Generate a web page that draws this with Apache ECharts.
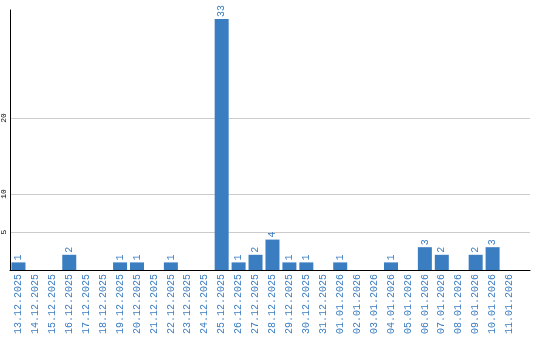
<!DOCTYPE html>
<html><head><meta charset="utf-8">
<script src="https://cdn.jsdelivr.net/npm/echarts@6/dist/echarts.min.js"></script>
<style>html,body{margin:0;padding:0;background:#fff}#c{width:540px;height:340px}</style>
</head><body><div id="c"></div>
<script>
const categories = ['13.12.2025','14.12.2025','15.12.2025','16.12.2025','17.12.2025','18.12.2025','19.12.2025','20.12.2025','21.12.2025','22.12.2025','23.12.2025','24.12.2025','25.12.2025','26.12.2025','27.12.2025','28.12.2025','29.12.2025','30.12.2025','31.12.2025','01.01.2026','02.01.2026','03.01.2026','04.01.2026','05.01.2026','06.01.2026','07.01.2026','08.01.2026','09.01.2026','10.01.2026','11.01.2026'];
const values = [1,0,0,2,0,0,1,1,0,1,0,0,33,1,2,4,1,1,0,1,0,0,1,0,3,2,0,2,3,0];
const yTicks = [5,10,20];
const yMax = 34.2;

const chart = echarts.init(document.getElementById('c'), null, {renderer:'canvas'});
chart.setOption({
  animation:false,
  grid:[
    {left:10,right:10,top:10,bottom:70,containLabel:false},
    {left:10,right:22,top:10,bottom:70,containLabel:false}
  ],
  xAxis:[
    {gridIndex:0,type:'value',min:0,max:1,
     axisLine:{show:true,onZero:false,lineStyle:{color:'#000',width:1}},
     axisTick:{show:false},axisLabel:{show:false},splitLine:{show:false}},
    {gridIndex:1,type:'category', data:categories, boundaryGap:true,
     axisLine:{show:false},
     axisTick:{show:false},
     axisLabel:{rotate:90,interval:0,color:'#3b7dc1',fontFamily:'Liberation Mono',fontSize:10,margin:4}}
  ],
  yAxis:[
    {gridIndex:0,type:'value', min:0, max:yMax,
     axisLine:{show:true,lineStyle:{color:'#000',width:1}},
     axisTick:{show:false,customValues:yTicks},
     axisLabel:{customValues:yTicks,rotate:90,color:'#000',fontFamily:'Liberation Mono',fontSize:8,margin:2},
     splitLine:{show:true,lineStyle:{color:'#cccccc',width:1}}},
    {gridIndex:1,type:'value', min:0, max:yMax, show:false, splitLine:{show:false}}
  ],
  series:[{
    type:'bar', xAxisIndex:1, yAxisIndex:1, data:values, barWidth:14,
    itemStyle:{color:'#3b7dc1'},
    label:{show:true,position:'top',rotate:90,align:'left',verticalAlign:'middle',distance:2,
      color:'#3b7dc1',fontFamily:'Liberation Mono',fontSize:10,
      formatter:p=>p.value?String(p.value):''}
  }]
});
</script></body></html>
